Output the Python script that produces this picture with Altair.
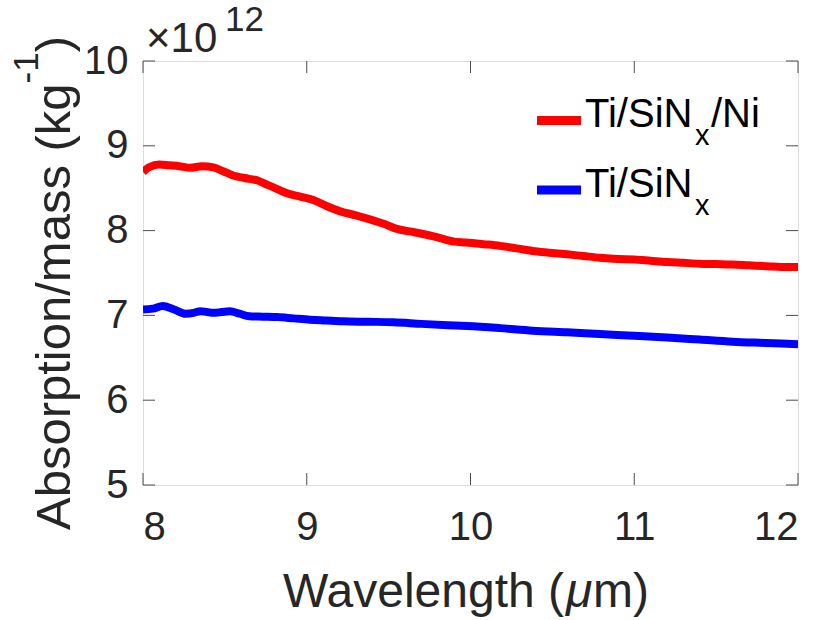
import altair as alt
import pandas as pd

# Absorption per unit mass (units of 10^12 kg^-1) versus wavelength (um)
wavelength_ni = [8.00, 8.04, 8.10, 8.16, 8.22, 8.29, 8.36, 8.43, 8.49, 8.55,
                 8.62, 8.70, 8.76, 8.82, 8.88, 8.96, 9.04, 9.12, 9.20, 9.30,
                 9.39, 9.47, 9.55, 9.63, 9.71, 9.80, 9.90, 9.97, 10.08, 10.18,
                 10.28, 10.38, 10.48, 10.59, 10.69, 10.79, 10.90, 11.00, 11.10, 11.20,
                 11.30, 11.40, 11.50, 11.60, 11.70, 11.81, 11.90, 12.00]
absorption_ni = [8.69, 8.75, 8.78, 8.77, 8.76, 8.74, 8.76, 8.745, 8.70, 8.65,
                 8.62, 8.59, 8.54, 8.49, 8.44, 8.40, 8.36, 8.29, 8.23, 8.18,
                 8.13, 8.08, 8.02, 7.99, 7.96, 7.92, 7.87, 7.86, 7.84, 7.82,
                 7.79, 7.76, 7.74, 7.72, 7.70, 7.68, 7.665, 7.66, 7.645, 7.63,
                 7.62, 7.61, 7.605, 7.60, 7.59, 7.58, 7.57, 7.57]

wavelength_bare = [8.00, 8.06, 8.12, 8.19, 8.26, 8.31, 8.35, 8.39, 8.43, 8.48,
                   8.53, 8.59, 8.65, 8.73, 8.82, 8.92, 9.02, 9.12, 9.22, 9.37,
                   9.53, 9.70, 9.86, 9.98, 10.18, 10.38, 10.59, 10.79, 11.00, 11.20,
                   11.40, 11.60, 11.80, 12.00]
absorption_bare = [7.07, 7.08, 7.11, 7.07, 7.02, 7.03, 7.05, 7.04, 7.03, 7.04,
                   7.05, 7.02, 6.99, 6.985, 6.98, 6.965, 6.95, 6.94, 6.93, 6.925,
                   6.92, 6.90, 6.885, 6.875, 6.85, 6.82, 6.80, 6.78, 6.76, 6.74,
                   6.715, 6.69, 6.675, 6.66]

series_names = ["Ti/SiNx/Ni", "Ti/SiNx"]
series_colors = ["#ff0000", "#0000ff"]
# legend text split into main part, subscript and trailing part
legend_parts = [("Ti/SiN", "x", "/Ni"), ("Ti/SiN", "x", "")]

x_ticks = [8, 9, 10, 11, 12]
y_ticks = [5, 6, 7, 8, 9, 10]

W, H = 655, 424
FONT = "Liberation Sans"
INK = "#262626"
FRAME = "#4d4d4d"
TICK_LEN = 12

df = pd.concat([
    pd.DataFrame({"wavelength": wavelength_ni, "absorption": absorption_ni,
                  "series": series_names[0]}),
    pd.DataFrame({"wavelength": wavelength_bare, "absorption": absorption_bare,
                  "series": series_names[1]}),
])

x_scale = alt.Scale(domain=[8, 12], nice=False, zero=False)
y_scale = alt.Scale(domain=[5, 10], nice=False, zero=False)

x_axis = alt.Axis(values=x_ticks, ticks=False, tickSize=0, domain=False, grid=False,
                  labelFont=FONT, labelFontSize=40, labelColor=INK, labelPadding=22,
                  title=None)
y_axis = alt.Axis(values=y_ticks, ticks=False, tickSize=0, domain=False, grid=False,
                  labelFont=FONT, labelFontSize=40, labelColor=INK, labelPadding=15,
                  title=None)

lines = alt.Chart(df).mark_line(strokeWidth=8, clip=True, strokeJoin="round",
                                interpolate="monotone").encode(
    x=alt.X("wavelength:Q", scale=x_scale, axis=x_axis),
    y=alt.Y("absorption:Q", scale=y_scale, axis=y_axis),
    color=alt.Color("series:N", scale=alt.Scale(domain=series_names, range=series_colors),
                    legend=None),
    order=alt.Order("wavelength:Q"),
)

# inward tick marks on all four sides of the box
xt = pd.DataFrame({"v": x_ticks})
yt = pd.DataFrame({"v": y_ticks})
tick_style = dict(color=FRAME, strokeWidth=1)
x_ticks_bottom = alt.Chart(xt).mark_rule(**tick_style).encode(
    x=alt.X("v:Q", scale=x_scale, axis=x_axis), y=alt.value(H), y2=alt.value(H - TICK_LEN))
x_ticks_top = alt.Chart(xt).mark_rule(**tick_style).encode(
    x=alt.X("v:Q", scale=x_scale, axis=x_axis), y=alt.value(0), y2=alt.value(TICK_LEN))
y_ticks_left = alt.Chart(yt).mark_rule(**tick_style).encode(
    y=alt.Y("v:Q", scale=y_scale, axis=y_axis), x=alt.value(0), x2=alt.value(TICK_LEN))
y_ticks_right = alt.Chart(yt).mark_rule(**tick_style).encode(
    y=alt.Y("v:Q", scale=y_scale, axis=y_axis), x=alt.value(W), x2=alt.value(W - TICK_LEN))


def label(text, x, y, size, angle=0, color=INK, style="normal"):
    return alt.Chart(pd.DataFrame({"t": [text]})).mark_text(
        font=FONT, fontSize=size, align="left", baseline="alphabetic",
        angle=angle, color=color, fontStyle=style,
    ).encode(x=alt.value(x), y=alt.value(y), text="t:N")


texts = []
# axis multiplier above the y axis
texts.append(label("\u00d710", 3, -9, 42))
texts.append(label("12", 82, -30, 35))

# x axis title
texts.append(label("Wavelength (", 140, 546, 48))
texts.append(label("\u03bc", 423, 546, 48, style="italic"))
texts.append(label("m)", 450, 546, 48))

# y axis title, rotated, with superscript exponent
ysize = 49
main_y = "Absorption/mass (kg"
main_len = 9.114 * ysize
base_x, base_y = -73, 469
texts.append(label(main_y, base_x, base_y, ysize, angle=270))
sup_size = 35
sup_y = base_y - main_len
texts.append(label("-1", base_x - 32, sup_y, sup_size, angle=270))
texts.append(label(")", base_x, sup_y - 0.889 * sup_size, ysize, angle=270))

# legend
legend_layers = []
for i, (name, color, parts) in enumerate(zip(series_names, series_colors, legend_parts)):
    row = 69.5 * i
    legend_layers.append(
        alt.Chart(pd.DataFrame({"series": [name]})).mark_rule(color=color, strokeWidth=9).encode(
            x=alt.value(394), x2=alt.value(438), y=alt.value(59.5 + row))
    )
    main, sub, tail = parts
    legend_layers.append(label(main, 442, 66 + row, 40, color="#000000"))
    legend_layers.append(label(sub, 552, 84 + row, 29, color="#000000"))
    if tail:
        legend_layers.append(label(tail, 568, 66 + row, 40, color="#000000"))

chart = alt.layer(
    lines, x_ticks_bottom, x_ticks_top, y_ticks_left, y_ticks_right,
    *texts, *legend_layers,
).properties(
    width=W, height=H,
    autosize=alt.AutoSizeParams(type="none"),
    padding={"left": 143, "top": 61, "right": 29, "bottom": 135},
).configure_view(
    stroke=FRAME, strokeWidth=1,
).configure(background="white")

chart.save("out.html", embed_options={"renderer": "svg", "actions": False})
